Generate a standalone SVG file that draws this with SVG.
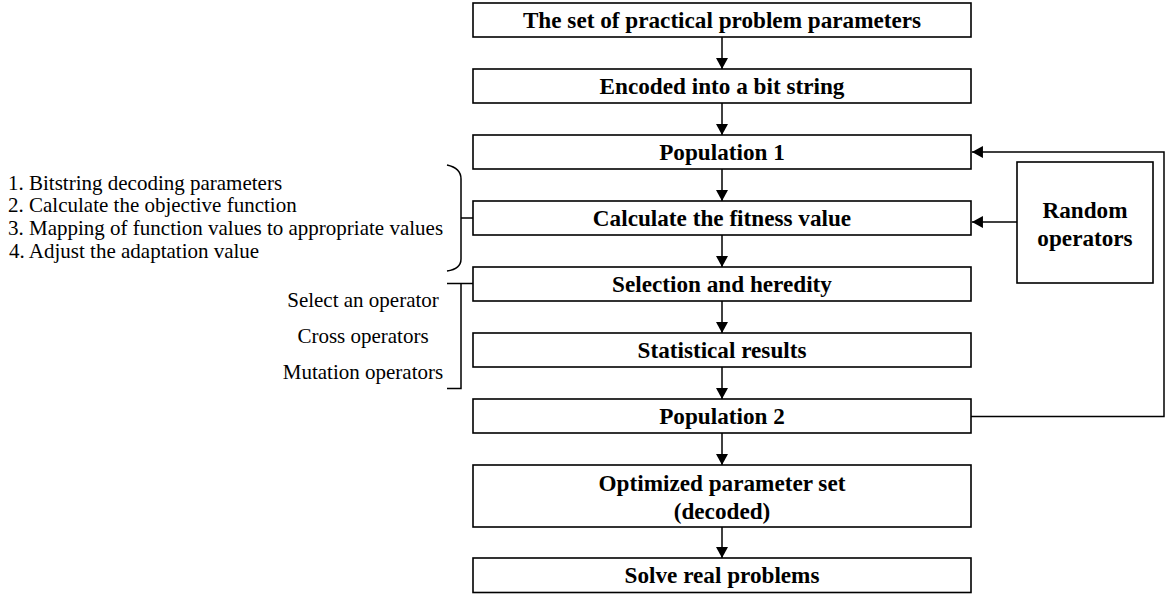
<svg xmlns="http://www.w3.org/2000/svg" width="1169" height="594" viewBox="0 0 1169 594">
<style>
.box{fill:#fff;stroke:#000;stroke-width:1.6}
.bt{font-family:"Liberation Serif","Times New Roman",serif;font-weight:bold;font-size:23.2px;text-anchor:middle;fill:#000}
.lt{font-family:"Liberation Serif","Times New Roman",serif;font-size:21px;fill:#000}
.ln{fill:none;stroke:#000;stroke-width:1.5}
</style>
<defs>
<marker id="ah" markerUnits="userSpaceOnUse" markerWidth="12" markerHeight="12" viewBox="0 0 10 11" refX="10" refY="5.5" orient="auto">
<path d="M0,0 L10,5.5 L0,11 Z" fill="#000"/>
</marker>
</defs>
<g id="connectors">
<line class="ln" x1="722" y1="37" x2="722" y2="69" marker-end="url(#ah)"/>
<line class="ln" x1="722" y1="103" x2="722" y2="135" marker-end="url(#ah)"/>
<line class="ln" x1="722" y1="169" x2="722" y2="201" marker-end="url(#ah)"/>
<line class="ln" x1="722" y1="235" x2="722" y2="267" marker-end="url(#ah)"/>
<line class="ln" x1="722" y1="301" x2="722" y2="333" marker-end="url(#ah)"/>
<line class="ln" x1="722" y1="367" x2="722" y2="399" marker-end="url(#ah)"/>
<line class="ln" x1="722" y1="433" x2="722" y2="465" marker-end="url(#ah)"/>
<line class="ln" x1="722" y1="527" x2="722" y2="558" marker-end="url(#ah)"/>
<line class="ln" x1="1017" y1="222" x2="972" y2="222" marker-end="url(#ah)"/>
<polyline class="ln" points="971,416.5 1164,416.5 1164,152 972,152" marker-end="url(#ah)"/>
</g>
<g id="n1"><rect class="box" x="473" y="3" width="498" height="34"/><text class="bt" x="722" y="28">The set of practical problem parameters</text></g>
<g id="n2"><rect class="box" x="473" y="69" width="498" height="34"/><text class="bt" x="722" y="94">Encoded into a bit string</text></g>
<g id="n3"><rect class="box" x="473" y="135" width="498" height="34"/><text class="bt" x="722" y="160">Population 1</text></g>
<g id="n4"><rect class="box" x="473" y="201" width="498" height="34"/><text class="bt" x="722" y="226">Calculate the fitness value</text></g>
<g id="n5"><rect class="box" x="473" y="267" width="498" height="34"/><text class="bt" x="722" y="292">Selection and heredity</text></g>
<g id="n6"><rect class="box" x="473" y="333" width="498" height="34"/><text class="bt" x="722" y="358">Statistical results</text></g>
<g id="n7"><rect class="box" x="473" y="399" width="498" height="34"/><text class="bt" x="722" y="424">Population 2</text></g>
<g id="n8"><rect class="box" x="473" y="465" width="498" height="62"/><text class="bt" x="722" y="491">Optimized parameter set</text><text class="bt" x="722" y="519">(decoded)</text></g>
<g id="n9"><rect class="box" x="473" y="558" width="498" height="34.5"/><text class="bt" x="722" y="583">Solve real problems</text></g>
<g id="n10"><rect class="box" x="1017" y="162" width="136" height="121"/><text class="bt" x="1085" y="218">Random</text><text class="bt" x="1085" y="246">operators</text></g>
<g id="notes1">
<text class="lt" x="8" y="189.5">1. Bitstring decoding parameters</text>
<text class="lt" x="8" y="212.3">2. Calculate the objective function</text>
<text class="lt" x="8" y="235">3. Mapping of function values to appropriate values</text>
<text class="lt" x="9" y="257.7">4. Adjust the adaptation value</text>
<path class="ln" d="M447,165 Q461,168 461,179 L461,218 L473,218 M461,218 L461,259 Q461,269 447,271"/>
</g>
<g id="notes2">
<text class="lt" x="363" y="307" text-anchor="middle">Select an operator</text>
<text class="lt" x="363" y="343" text-anchor="middle">Cross operators</text>
<text class="lt" x="363" y="379" text-anchor="middle">Mutation operators</text>
<path class="ln" d="M447,283.5 L473,283.5 M461,283.5 L461,388.5 L447,388.5"/>
</g>
</svg>
